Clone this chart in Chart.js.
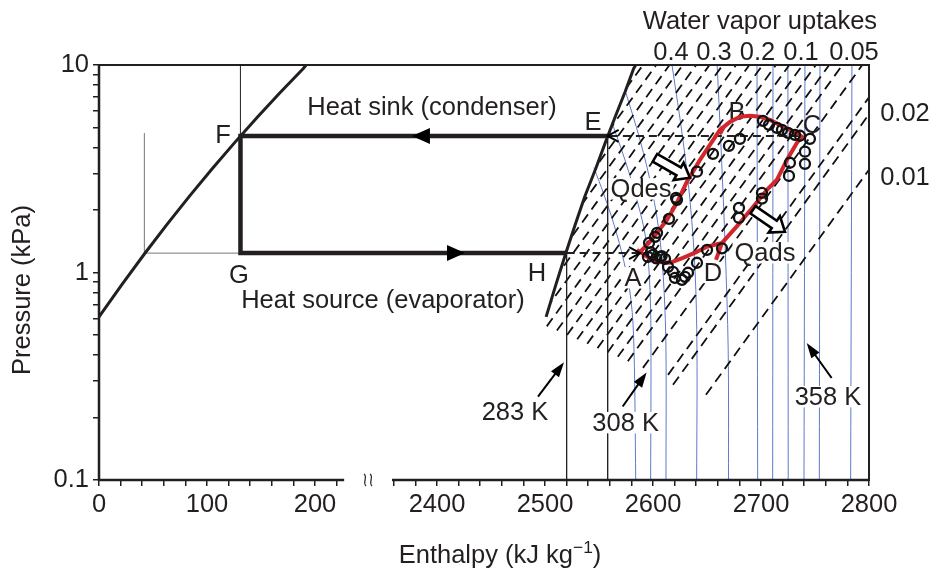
<!DOCTYPE html>
<html>
<head>
<meta charset="utf-8">
<title>Enthalpy - pressure diagram</title>
<script src="https://cdn.jsdelivr.net/npm/chart.js@4.4.1/dist/chart.umd.min.js"></script>
<style>
  html, body { margin:0; padding:0; background:#ffffff; }
  #box { position:relative; width:935px; height:573px; }
</style>
</head>
<body>
<div id="box"><canvas id="chart" width="935" height="573"></canvas></div>
<script>
// ======================= DATA (enthalpy kJ/kg, pressure kPa) =======================
const xMajorTicks = [0, 100, 200, 2400, 2500, 2600, 2700, 2800];
const xTickValues = [0, 20, 40, 60, 80, 100, 120, 140, 160, 180, 200, 220,
  2360, 2380, 2400, 2420, 2440, 2460, 2480, 2500, 2520, 2540, 2560, 2580, 2600,
  2620, 2640, 2660, 2680, 2700, 2720, 2740, 2760, 2780, 2800];
const yTickValues = [0.1, 0.2, 0.3, 0.4, 0.5, 0.6, 0.7, 0.8, 0.9, 1, 2, 3, 4, 5, 6, 7, 8, 9, 10];
const yMajorTicks = [0.1, 1, 10];
const topUptakeLabels = ['0.4', '0.3', '0.2', '0.1', '0.05'];
const rightUptakeLabels = ['0.02', '0.01'];

// saturated liquid line
const satLiquidH = [0, 21, 42, 63, 84, 105, 126, 147, 168, 189, 191.8];
const satLiquidP = [0.611, 0.872, 1.228, 1.705, 2.339, 3.17, 4.25, 5.63, 7.39, 9.6, 10];
// saturated vapour line
const satVaporH = [2501, 2510, 2519, 2528, 2537, 2547, 2556, 2565, 2574, 2582, 2584];
const satVaporP = [0.611, 0.872, 1.228, 1.705, 2.339, 3.17, 4.25, 5.63, 7.39, 9.6, 10];

// refrigerant cycle E -> F -> G -> H
const cycleH = [2558, 131, 131, 2520];
const cycleP = [4.55, 4.55, 1.24, 1.24];
// thin guide lines
const guideTopH = [131, 131];   const guideTopP = [10, 4.55];
const guideLowH = [42, 131];    const guideLowP = [1.24, 1.24];
const guideVertH = [42, 42];    const guideVertP = [1.24, 4.7];
const iso283H = [2520, 2520];   const iso283P = [1.24, 0.1];
const isoEH = [2558, 2558];     const isoEP = [4.55, 0.1];
// dashed transfer arrows
const condArrowH = [2736, 2558]; const condArrowP = [4.55, 4.55];
const evapArrowH = [2520, 2588]; const evapArrowP = [1.24, 1.24];

// adsorption cycle A-B-C-D (red loop)
const loopH = [2585.1, 2601.8, 2615.7, 2627.7, 2640.7, 2650, 2663.9, 2680.5, 2692.6, 2705.5, 2714.8,
  2724, 2733.3, 2737.9, 2733.3, 2720.3, 2708.3, 2699, 2689.8, 2680.5, 2671.3, 2662, 2652.7, 2643.5,
  2631.4, 2622.2, 2613, 2603.7, 2596.3, 2588];
const loopP = [1.286, 1.126, 1.114, 1.177, 1.258, 1.33, 1.39, 1.736, 2.07, 2.5, 2.8,
  3.49, 4.22, 4.51, 4.71, 5.04, 5.44, 5.63, 5.69, 5.63, 5.32, 4.87, 4.12, 3.49,
  2.74, 2.17, 1.795, 1.553, 1.39, 1.258];
const spurDH = [2663.9, 2658.3]; const spurDP = [1.39, 1.151];
const spurBH = [2666.6, 2662.5]; const spurBP = [5.1, 4.65];

// measured points (open circles)
const measH = [2621.3, 2640.7, 2655.5, 2670.3, 2680.5, 2701.8, 2707.4, 2714.8, 2719.4, 2725, 2731.4,
  2736.1, 2745.3, 2740.7, 2740.7, 2726.8, 2725.9, 2700.9, 2700.9, 2679.6, 2679.6, 2663.9, 2650,
  2640.7, 2632.4, 2629.6, 2626.8, 2620.3, 2618.5, 2613.9, 2611.1, 2606.4, 2600, 2595.3, 2596.3,
  2601.8, 2603.7, 2614.8, 2622.2, 2598, 2603, 2608];
const measP = [2.29, 3.06, 3.73, 4.08, 4.41, 5.38, 5.15, 4.98, 4.87, 4.71, 4.61,
  4.56, 4.41, 3.82, 3.34, 3.38, 2.92, 2.42, 2.27, 2.05, 1.835, 1.308, 1.286,
  1.114, 0.997, 0.953, 0.922, 0.943, 1.008, 1.065, 1.164, 1.19, 1.217, 1.19, 1.39,
  1.486, 1.553, 1.815, 2.24, 1.25, 1.17, 1.2];

// isotherms (thin blue lines)
const isothermH = [
  [2545.3, 2554.6, 2563.9, 2573.1, 2579.6, 2582.4, 2584.0],
  [2562.0, 2574.0, 2585.1, 2593.5, 2597.2, 2598.1, 2597.8],
  [2574.9, 2587.9, 2599.1, 2606.5, 2610.2, 2612.0, 2612.0],
  [2617.6, 2627.7, 2634.2, 2638.9, 2640.7, 2640.4],
  [2659.4, 2663.1, 2666.9, 2669.6, 2669.9],
  [2696.3, 2696.9], [2711.1, 2710.8], [2724.9, 2725.2], [2740.7, 2739.8], [2754.6, 2754.0], [2784.2, 2783.0]
];
const isothermP = [
  [3.20, 2.37, 1.70, 1.126, 0.739, 0.424, 0.1],
  [5.27, 3.49, 2.24, 1.438, 0.826, 0.424, 0.1],
  [7.35, 4.36, 2.50, 1.438, 0.826, 0.424, 0.1],
  [10, 4.36, 2.24, 1.03, 0.424, 0.1],
  [10, 3.90, 1.286, 0.424, 0.1],
  [10, 0.1], [10, 0.1], [10, 0.1], [10, 0.1], [10, 0.1], [10, 0.1]
];

// isosteres (dashed lines): lower end -> upper end
const isostereLowH = [2435.9, 2445.2, 2454.7, 2464.0, 2473.5, 2482.8, 2492.2, 2501.6, 2511.0, 2520.4,
  2529.8, 2539.1, 2548.6, 2557.9, 2567.4, 2576.7, 2590.7, 2613.9, 2618.5, 2649.0];
const isostereLowP = [0.773, 0.736, 0.701, 0.668, 0.637, 0.607, 0.578, 0.550, 0.525, 0.500,
  0.4765, 0.4538, 0.432, 0.412, 0.3925, 0.3737, 0.347, 0.321, 0.2876, 0.2574];
const isostereHighH = [2590.7, 2603.0, 2615.3, 2627.6, 2640.0, 2652.3, 2664.6, 2676.9, 2689.2, 2701.5,
  2713.8, 2726.2, 2738.5, 2750.8, 2763.1, 2775.4, 2793.8, 2800, 2800, 2800];
const isostereHighP = [10, 10, 10, 10, 10, 10, 10, 10, 10, 10,
  10, 10, 10, 10, 10, 10, 10, 6.98, 5.79, 3.13];

// ======================= AXIS BREAK =======================
const AXIS_SHIFT = 2087;                       // enthalpy removed by the axis break
function ax(h) { return h < 1000 ? h : h - AXIS_SHIFT; }
function unAx(v) { return v < 250 ? v : v + AXIS_SHIFT; }
function pts(hs, ps) { return hs.map((h, i) => ({ x: ax(h), y: ps[i] })); }

// ======================= STYLE =======================
const FONT = '"Liberation Sans", Arial, Helvetica, sans-serif';
const FS = 25.5;
const INK = '#231f20';
const RED = '#d3262c';
const BLUE = '#5d7bcc';

function lineDs(data, o) {
  return Object.assign({ data, showLine: true, pointRadius: 0, pointHoverRadius: 0, fill: false,
    tension: 0, borderColor: INK, borderWidth: 1, borderCapStyle: 'butt', borderJoinStyle: 'miter' }, o);
}

const datasets = [];
isothermH.forEach((hs, i) => datasets.push(lineDs(pts(hs, isothermP[i]),
  { borderColor: BLUE, borderWidth: 1, tension: 0.35, order: 30 })));
isostereLowH.forEach((h, i) => datasets.push(lineDs(pts([h, isostereHighH[i]], [isostereLowP[i], isostereHighP[i]]),
  { borderColor: '#111', borderWidth: 1.8, borderDash: [10, 6], order: 29, clipSat: true })));
datasets.push(lineDs(pts(guideTopH, guideTopP), { borderColor: '#333', borderWidth: 1, order: 28 }));
datasets.push(lineDs(pts(guideLowH, guideLowP), { borderColor: '#777', borderWidth: 1, order: 28 }));
datasets.push(lineDs(pts(guideVertH, guideVertP), { borderColor: '#777', borderWidth: 1, order: 28 }));
datasets.push(lineDs(pts(iso283H, iso283P), { borderColor: '#222', borderWidth: 1, order: 28 }));
datasets.push(lineDs(pts(isoEH, isoEP), { borderColor: '#222', borderWidth: 1, order: 28 }));
datasets.push(lineDs([{ x: 0, y: 1 }], { borderWidth: 0, order: 25, labelLayer: true }));
datasets.push(lineDs(pts(satLiquidH, satLiquidP), { borderWidth: 3, order: 20, borderJoinStyle: 'round' }));
datasets.push(lineDs(pts(satVaporH, satVaporP), { borderWidth: 3, order: 20, borderJoinStyle: 'round' }));
datasets.push(lineDs(pts(cycleH, cycleP), { borderWidth: 4.5, order: 19 }));
datasets.push(lineDs(pts(condArrowH, condArrowP), { borderWidth: 2, borderDash: [8, 5], order: 18 }));
datasets.push(lineDs(pts(evapArrowH, evapArrowP), { borderWidth: 2, borderDash: [8, 5], order: 18 }));
datasets.push(lineDs(pts(loopH, loopP), { borderColor: RED, borderWidth: 4, order: 17, borderJoinStyle: 'round' }));
datasets.push(lineDs(pts(spurDH, spurDP), { borderColor: RED, borderWidth: 4, order: 17 }));
datasets.push(lineDs(pts(spurBH, spurBP), { borderColor: RED, borderWidth: 3, order: 17 }));
datasets.push({ data: pts(measH, measP), showLine: false, pointRadius: 5, pointHoverRadius: 5,
  pointBorderWidth: 2.3, pointBorderColor: '#111', pointBackgroundColor: 'rgba(0,0,0,0)', order: 16 });

// ======================= ANNOTATIONS (axis units / kPa) =======================
const textLabels = [
  { t: 'Heat sink (condenser)', x: 308.3, p: 6.29, bg: false },
  { t: 'Heat source (evaporator)', x: 262.9, p: 0.739, bg: false },
  { t: 'F', x: 114.8, p: 4.61 }, { t: 'G', x: 129.6, p: 0.975 },
  { t: 'E', x: 457.4, p: 5.32 }, { t: 'H', x: 405.6, p: 1.0 },
  { t: 'A', x: 494.4, p: 0.943, bg: true }, { t: 'B', x: 590.7, p: 5.95 },
  { t: 'C', x: 660.2, p: 5.15 }, { t: 'D', x: 568.5, p: 1.0, bg: true },
  { t: 'Qdes', x: 501.9, p: 2.53, bg: true }, { t: 'Qads', x: 616.7, p: 1.244, bg: true },
  { t: '283 K', x: 385.2, p: 0.212, bg: true }, { t: '308 K', x: 487.6, p: 0.189, bg: true },
  { t: '358 K', x: 675, p: 0.252, bg: true },
  { t: 'Water vapor uptakes', x: 612, p: 16.3 },
  { t: topUptakeLabels[0], x: 529.6, p: 11.58 }, { t: topUptakeLabels[1], x: 569.4, p: 11.58 },
  { t: topUptakeLabels[2], x: 609.7, p: 11.58 }, { t: topUptakeLabels[3], x: 650, p: 11.58 },
  { t: topUptakeLabels[4], x: 699.1, p: 11.58 },
  { t: rightUptakeLabels[0], x: 746.3, p: 5.88 }, { t: rightUptakeLabels[1], x: 746.3, p: 2.89 }
];
const cycleHeads = [ { x: 289.8, p: 4.55, dir: -1 }, { x: 338.9, p: 1.24, dir: 1 } ];
const openHeads = [ { x: ax(2558), p: 4.55, dir: -1 }, { x: ax(2588), p: 1.24, dir: 1 } ];
const blockArrows = [ { x0: 514.8, p0: 3.57, x1: 547.2, p1: 2.86 }, { x0: 605.6, p0: 2.005, x1: 635.2, p1: 1.571 } ];
const pointers = [ { x0: 406.5, p0: 0.252, x1: 430.6, p1: 0.3696 },
                   { x0: 484.9, p0: 0.226, x1: 507.1, p1: 0.3297 },
                   { x0: 678.4, p0: 0.31, x1: 655.3, p1: 0.457 } ];

function P(chart, x, p) { return [chart.scales.x.getPixelForValue(x), chart.scales.y.getPixelForValue(p)]; }

function drawLabels(chart) {
  const ctx = chart.ctx;
  ctx.save();
  ctx.font = FS + 'px ' + FONT;
  ctx.textAlign = 'center'; ctx.textBaseline = 'middle';
  textLabels.forEach(l => {
    const [px, py] = P(chart, l.x, l.p);
    if (l.bg) {
      const w = ctx.measureText(l.t).width;
      ctx.fillStyle = '#fff';
      ctx.fillRect(px - w / 2 - 2, py - FS * 0.42, w + 4, FS * 0.84);
    }
    ctx.fillStyle = INK;
    ctx.fillText(l.t, px, py + 1);
  });
  ctx.restore();
}

function drawArrows(chart) {
  const ctx = chart.ctx;
  ctx.save();
  ctx.fillStyle = '#000'; ctx.strokeStyle = '#000';
  cycleHeads.forEach(a => {
    const [px, py] = P(chart, a.x, a.p);
    ctx.beginPath();
    ctx.moveTo(px, py); ctx.lineTo(px - a.dir * 18, py - 8); ctx.lineTo(px - a.dir * 18, py + 8); ctx.closePath();
    ctx.fill();
  });
  ctx.lineWidth = 2;
  openHeads.forEach(a => {
    const [px, py] = P(chart, a.x, a.p);
    ctx.beginPath();
    ctx.moveTo(px - a.dir * 11, py - 6); ctx.lineTo(px, py); ctx.lineTo(px - a.dir * 11, py + 6);
    ctx.stroke();
  });
  pointers.forEach(a => {
    const [x0, y0] = P(chart, a.x0, a.p0), [x1, y1] = P(chart, a.x1, a.p1);
    const L = Math.hypot(x1 - x0, y1 - y0), ux = (x1 - x0) / L, uy = (y1 - y0) / L;
    ctx.lineWidth = 2;
    ctx.beginPath(); ctx.moveTo(x0, y0); ctx.lineTo(x1 - ux * 10, y1 - uy * 10); ctx.stroke();
    ctx.beginPath();
    ctx.moveTo(x1, y1);
    ctx.lineTo(x1 - ux * 15 - uy * 5, y1 - uy * 15 + ux * 5);
    ctx.lineTo(x1 - ux * 15 + uy * 5, y1 - uy * 15 - ux * 5);
    ctx.closePath(); ctx.fill();
  });
  blockArrows.forEach(a => {
    const [x0, y0] = P(chart, a.x0, a.p0), [x1, y1] = P(chart, a.x1, a.p1);
    const L = Math.hypot(x1 - x0, y1 - y0), ux = (x1 - x0) / L, uy = (y1 - y0) / L;
    const nx = -uy, ny = ux, sw = 4.5, hw = 10, hl = 13;
    const bx = x1 - ux * hl, by = y1 - uy * hl;
    ctx.beginPath();
    ctx.moveTo(x0 + nx * sw, y0 + ny * sw);
    ctx.lineTo(bx + nx * sw, by + ny * sw);
    ctx.lineTo(bx + nx * hw, by + ny * hw);
    ctx.lineTo(x1, y1);
    ctx.lineTo(bx - nx * hw, by - ny * hw);
    ctx.lineTo(bx - nx * sw, by - ny * sw);
    ctx.lineTo(x0 - nx * sw, y0 - ny * sw);
    ctx.closePath();
    ctx.fillStyle = '#fff'; ctx.fill();
    ctx.lineWidth = 2.6; ctx.lineJoin = 'miter'; ctx.stroke();
    ctx.fillStyle = '#000';
  });
  ctx.restore();
}

function drawFrame(chart) {
  const ctx = chart.ctx, a = chart.chartArea, xs = chart.scales.x;
  const leftEnd = xs.getPixelForValue(227), rightStart = xs.getPixelForValue(271.3);
  ctx.save();
  ctx.strokeStyle = INK; ctx.lineCap = 'butt';
  ctx.lineWidth = 2.5;
  ctx.beginPath(); ctx.moveTo(a.left, a.top); ctx.lineTo(a.left, a.bottom); ctx.stroke();
  ctx.beginPath(); ctx.moveTo(a.left - 1.2, a.bottom); ctx.lineTo(leftEnd, a.bottom);
  ctx.moveTo(rightStart, a.bottom); ctx.lineTo(a.right, a.bottom); ctx.stroke();
  ctx.lineWidth = 2;
  ctx.beginPath(); ctx.moveTo(a.left, a.top); ctx.lineTo(a.right, a.top); ctx.lineTo(a.right, a.bottom + 1); ctx.stroke();
  // break symbol
  const mid = (leftEnd + rightStart) / 2;
  ctx.lineWidth = 1.2;
  [-3, 3].forEach(dx => {
    const cx = mid + dx, cy = a.bottom;
    ctx.beginPath();
    ctx.moveTo(cx - 1, cy - 6);
    ctx.bezierCurveTo(cx + 3, cy - 3, cx - 3, cy + 3, cx + 1, cy + 6);
    ctx.stroke();
  });
  // axis titles
  ctx.fillStyle = INK;
  ctx.font = FS + 'px ' + FONT;
  ctx.textAlign = 'center'; ctx.textBaseline = 'middle';
  ctx.save(); ctx.translate(23, 290); ctx.rotate(-Math.PI / 2); ctx.fillText('Pressure (kPa)', 0, 0); ctx.restore();
  const t1 = 'Enthalpy (kJ kg', sup = '\u22121', t2 = ')';
  ctx.textBaseline = 'alphabetic'; ctx.textAlign = 'left';
  const w1 = ctx.measureText(t1).width;
  ctx.font = (FS * 0.68) + 'px ' + FONT; const ws = ctx.measureText(sup).width;
  ctx.font = FS + 'px ' + FONT; const w2 = ctx.measureText(t2).width;
  let sx = 500 - (w1 + ws + w2) / 2; const base = 563;
  ctx.fillText(t1, sx, base); sx += w1;
  ctx.font = (FS * 0.68) + 'px ' + FONT; ctx.fillText(sup, sx, base - 10); sx += ws;
  ctx.font = FS + 'px ' + FONT; ctx.fillText(t2, sx, base);
  ctx.restore();
}

const deco = {
  id: 'deco',
  beforeDatasetDraw(chart, args) {
    const ds = chart.data.datasets[args.index];
    if (!ds.clipSat) return;
    const ctx = chart.ctx, a = chart.chartArea;
    ctx.save();
    ctx.beginPath();
    const [sx0] = P(chart, ax(satVaporH[0]), satVaporP[0]);
    ctx.moveTo(sx0, a.bottom + 5);
    satVaporH.forEach((h, i) => { const [px, py] = P(chart, ax(h), satVaporP[i]); ctx.lineTo(px, py); });
    const [sxn] = P(chart, ax(satVaporH[satVaporH.length - 1]), 10);
    ctx.lineTo(sxn, a.top - 5);
    ctx.lineTo(a.right + 5, a.top - 5);
    ctx.lineTo(a.right + 5, a.bottom + 5);
    ctx.closePath();
    ctx.clip();
  },
  afterDatasetDraw(chart, args) {
    const ds = chart.data.datasets[args.index];
    if (ds.clipSat) chart.ctx.restore();
    if (ds.labelLayer) drawLabels(chart);
  },
  afterDatasetsDraw(chart) { drawArrows(chart); },
  afterDraw(chart) { drawFrame(chart); }
};

new Chart(document.getElementById('chart'), {
  type: 'line',
  data: { datasets },
  plugins: [deco],
  options: {
    responsive: false, animation: false, devicePixelRatio: 1,
    layout: { padding: { top: 65, right: 66, left: 0, bottom: 0 } },
    plugins: { legend: { display: false }, tooltip: { enabled: false }, title: { display: false } },
    scales: {
      x: {
        type: 'linear', min: 0, max: 713,
        border: { display: false },
        grid: { drawOnChartArea: false, drawTicks: true, tickLength: 6, color: INK, lineWidth: 1.5 },
        ticks: { autoSkip: false, maxRotation: 0, padding: 4, color: INK, font: { family: FONT, size: FS },
          callback: v => { const h = Math.round(unAx(v)); return xMajorTicks.includes(h) ? String(h) : ''; } },
        afterBuildTicks: s => { s.ticks = xTickValues.map(h => ({ value: ax(h) })); },
        afterFit: s => { s.height = 93; }
      },
      y: {
        type: 'logarithmic', min: 0.1, max: 10,
        border: { display: false },
        grid: { drawOnChartArea: false, drawTicks: true, tickLength: 6, color: INK, lineWidth: 1.5 },
        ticks: { autoSkip: false, padding: 4, color: INK, font: { family: FONT, size: FS },
          callback: v => yMajorTicks.includes(v) ? String(v) : '' },
        afterBuildTicks: s => { s.ticks = yTickValues.map(v => ({ value: v })); },
        afterFit: s => { s.width = 99; }
      }
    }
  }
});
</script>
</body>
</html>
